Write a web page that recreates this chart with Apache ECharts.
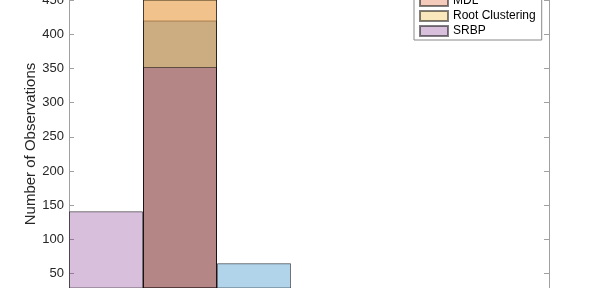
<!DOCTYPE html>
<html><head><meta charset="utf-8">
<script src="https://cdn.jsdelivr.net/npm/echarts@6/dist/echarts.min.js"></script>
<style>html,body{margin:0;padding:0;background:#fff}#c{width:598px;height:288px}</style>
</head><body><div id="c"></div>
<script>
const seriesNames = ['Proposed', 'MDL', 'Root Clustering', 'SRBP'];
const binCenters = [0.5, 1.5, 2.5];
const proposedCounts = [0, 420, 65];
const mdlCounts = [0, 478, 0];
const rootCounts = [0, 466, 0];
const srbpCounts = [141, 352, 0];
const yTicks = [50, 100, 150, 200, 250, 300, 350, 400, 450];
const yMin = 28.8, yMax = 450;

const colors = ['rgba(0,114,189,0.3)', 'rgba(217,83,25,0.3)', 'rgba(237,177,32,0.3)', 'rgba(126,47,142,0.3)'];
const allCounts = [proposedCounts, mdlCounts, rootCounts, srbpCounts];
const FONT = 'Liberation Sans, Arial, Helvetica, sans-serif';
const axisCol = '#a0a0a0';

const chart = echarts.init(document.getElementById('c'), null, {renderer: 'canvas'});
const yAxisBase = {
  type: 'value', min: yMin, max: yMax,
  splitLine: {show: false},
  axisLine: {show: true, lineStyle: {color: axisCol, width: 1}},
  axisTick: {show: true, inside: true, length: 5, customValues: yTicks, lineStyle: {color: axisCol}}
};
chart.setOption({
  animation: false,
  backgroundColor: '#fff',
  grid: {left: 69, right: 49, top: 0, bottom: 0, containLabel: false, outerBoundsMode: 'none'},
  xAxis: {
    type: 'value', min: 0, max: 480 / 74,
    axisLabel: {show: false}, axisTick: {show: false}, splitLine: {show: false},
    axisLine: {show: false}
  },
  yAxis: [
    Object.assign({}, yAxisBase, {
      position: 'left',
      axisLabel: {show: true, customValues: yTicks, fontSize: 13, color: '#262626', fontFamily: FONT, margin: 5,
                  showMaxLabel: true, hideOverlap: false},
      name: 'Number of Observations', nameLocation: 'middle', nameGap: 31, nameMoveOverlap: false,
      nameTextStyle: {fontSize: 15, color: '#262626', fontFamily: FONT}
    }),
    Object.assign({}, yAxisBase, {position: 'right', axisLabel: {show: false}})
  ],
  legend: {
    data: seriesNames, orient: 'vertical', left: 414, top: -24,
    itemWidth: 28, itemHeight: 10, itemGap: 3,
    padding: [4, 6, 3, 5], borderColor: '#888', borderWidth: 1, borderRadius: 0,
    backgroundColor: '#fff', selectedMode: false, icon: 'rect',
    textStyle: {fontSize: 12, color: '#000', fontFamily: FONT}
  },
  series: seriesNames.map((name, s) => ({
    name: name, type: 'bar', yAxisIndex: 0, clip: true,
    data: binCenters.map((x, i) => [x, allCounts[s][i]]),
    barWidth: 74, barGap: '-100%',
    itemStyle: {color: colors[s], borderColor: 'rgba(0,0,0,0.5)', borderWidth: 1}
  }))
});
</script></body></html>
